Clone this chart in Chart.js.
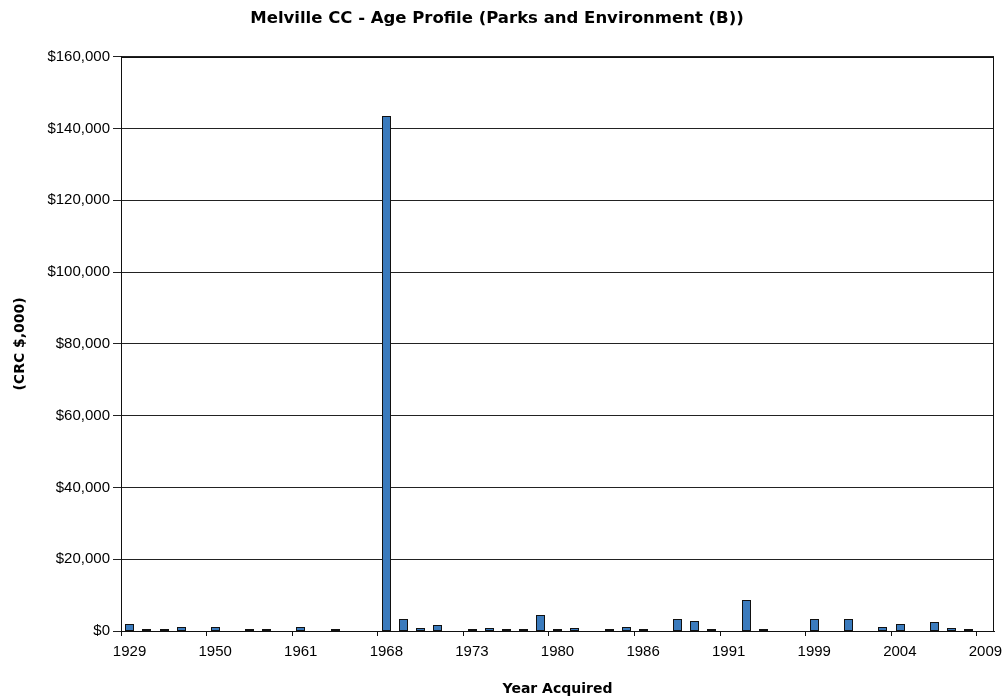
<!DOCTYPE html>
<html>
<head>
<meta charset="utf-8">
<title>Melville CC - Age Profile (Parks and Environment (B))</title>
<script src="https://cdn.jsdelivr.net/npm/chart.js@4/dist/chart.umd.min.js"></script>
<style>
  html, body { margin: 0; padding: 0; background: #ffffff; }
  #wrap { width: 1003px; height: 698px; }
</style>
</head>
<body>
<div id="wrap"><canvas id="chart" width="1003" height="698"></canvas></div>
<script>
// Year in which each asset group was acquired (one category per year with records)
const years = [
  '1929', '1935', '1940', '1945', '1948',
  '1950', '1953', '1955', '1957', '1959',
  '1961', '1962', '1964', '1965', '1966',
  '1968', '1969', '1970', '1971', '1972',
  '1973', '1974', '1975', '1977', '1979',
  '1980', '1981', '1982', '1983', '1984',
  '1986', '1987', '1988', '1989', '1990',
  '1991', '1992', '1993', '1995', '1997',
  '1999', '2000', '2001', '2002', '2003',
  '2004', '2005', '2006', '2007', '2008',
  '2009'
];

// Current replacement cost acquired in each year (CRC $,000)
const crcValues = [
  2000, 500, 500, 1200, 0,
  1200, 0, 500, 500, 0,
  1200, 0, 500, 0, 0,
  143500, 3250, 850, 1650, 0,
  500, 850, 500, 500, 4350,
  500, 850, 0, 500, 1200,
  500, 0, 3250, 2900, 500,
  0, 8550, 500, 0, 0,
  3250, 0, 3250, 0, 1200,
  2000, 0, 2500, 850, 500,
  0
];

// Value axis ticks
const yTicks = [0, 20000, 40000, 60000, 80000, 100000, 120000, 140000, 160000];

// Only every fifth year is labelled on the category axis
const labelEvery = 5;

const LABEL_FONT = "'Liberation Sans', Arial, sans-serif";
const TITLE_FONT = "'DejaVu Sans', Verdana, sans-serif";

// Snap bar edges to whole pixels so thin outlines stay crisp
const crispBars = {
  id: 'crispBars',
  beforeDatasetsDraw(chart) {
    chart.getDatasetMeta(0).data.forEach((bar) => {
      const w = Math.round(bar.width);
      const left = Math.round(bar.x - bar.width / 2);
      bar.width = w;
      bar.x = left + w / 2;
      bar.y = Math.round(bar.y);
      bar.base = Math.round(bar.base);
    });
  }
};

// Box around the plot area
const plotFrame = {
  id: 'plotFrame',
  afterDatasetsDraw(chart) {
    const { ctx, chartArea: a } = chart;
    ctx.save();
    ctx.strokeStyle = '#111111';
    ctx.lineWidth = 1;
    ctx.strokeRect(Math.round(a.left) + 0.5, Math.round(a.top) + 0.5,
                   Math.round(a.right - a.left) - 1, Math.round(a.bottom - a.top));
    ctx.restore();
  }
};

new Chart(document.getElementById('chart'), {
  type: 'bar',
  data: {
    labels: years,
    datasets: [{
      label: 'CRC ($,000)',
      data: crcValues,
      backgroundColor: '#3B7BBD',
      borderColor: '#111111',
      borderWidth: 1,
      borderSkipped: false,
      categoryPercentage: 1.0,
      barPercentage: 0.5
    }]
  },
  options: {
    responsive: false,
    animation: false,
    events: [],
    layout: { padding: { left: 0, right: 9, top: 0, bottom: 0 } },
    plugins: {
      legend: { display: false },
      tooltip: { enabled: false },
      title: {
        display: true,
        text: 'Melville CC - Age Profile (Parks and Environment (B))',
        color: '#000000',
        font: { family: TITLE_FONT, size: 16.5, weight: 'bold', lineHeight: 1.2 },
        padding: { top: 9, bottom: 28 }
      }
    },
    scales: {
      x: {
        type: 'category',
        offset: true,
        grid: {
          offset: true,
          drawOnChartArea: false,
          drawTicks: true,
          tickLength: 5,
          color: '#111111',
          tickColor: (c) => (c.index !== undefined && c.index % labelEvery === 0) ? '#111111' : 'rgba(0,0,0,0)'
        },
        border: { display: true, color: '#111111', width: 1 },
        ticks: {
          autoSkip: false,
          maxRotation: 0,
          minRotation: 0,
          padding: 7,
          color: '#000000',
          font: { family: LABEL_FONT, size: 15 },
          callback: (v, i) => (i % labelEvery === 0 ? years[i] : '')
        },
        title: {
          display: true,
          text: 'Year Acquired',
          color: '#000000',
          font: { family: TITLE_FONT, size: 14, weight: 'bold', lineHeight: 1.2 },
          padding: { top: 0, bottom: 0 }
        },
        afterFit: (scale) => {
          scale.height = 67;
          scale.paddingLeft = 0;
          scale.paddingRight = 0;
        }
      },
      y: {
        min: 0,
        max: yTicks[yTicks.length - 1],
        afterBuildTicks: (scale) => { scale.ticks = yTicks.map(v => ({ value: v })); },
        grid: {
          color: '#222222',
          lineWidth: 1,
          drawTicks: true,
          tickLength: 8
        },
        border: { display: true, color: '#111111', width: 1 },
        ticks: {
          padding: 3,
          color: '#000000',
          font: { family: LABEL_FONT, size: 15 },
          callback: (v) => '$' + Number(v).toLocaleString('en-US')
        },
        title: {
          display: true,
          text: '(CRC $,000)',
          color: '#000000',
          font: { family: TITLE_FONT, size: 14, weight: 'bold', lineHeight: 1.2 },
          padding: { top: 12, bottom: 0 }
        },
        afterFit: (scale) => {
          scale.width = 121;
          scale.paddingTop = 0;
          scale.paddingBottom = 0;
        }
      }
    }
  },
  plugins: [crispBars, plotFrame]
});
</script>
</body>
</html>
